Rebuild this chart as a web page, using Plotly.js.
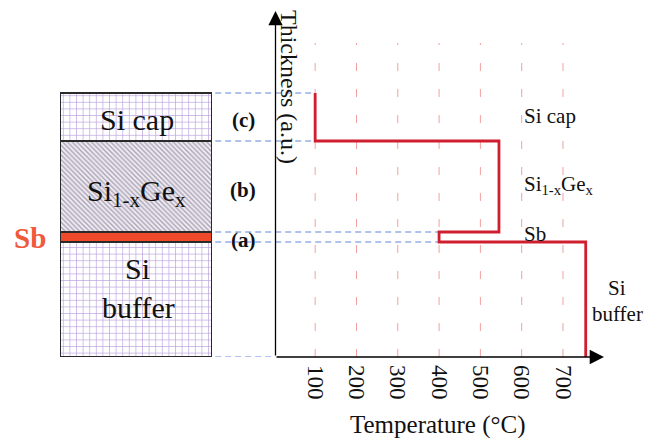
<!DOCTYPE html>
<html><head><meta charset="utf-8">
<script src="https://cdn.plot.ly/plotly-3.0.1.min.js"></script>
<style>html,body{margin:0;padding:0;background:#fff}#chart{width:658px;height:438px}</style>
</head><body><div id="chart"></div>
<script>
// ---- data ----
const layers = ['Si buffer', 'Sb', 'Si<sub>1-x</sub>Ge<sub>x</sub>', 'Si cap'];
const thickness = [115, 10, 91, 48];          // a.u., bottom to top
const temperature = [755, 400, 545, 100];     // growth temperature (°C) per layer
const tickValues = [100, 200, 300, 400, 500, 600, 700];
const tickLabels = ['100', '200', '300', '400', '500', '600', '700'];

// ---- geometry helpers ----
const W = 658, H = 438;
const px = v => v / W;
const py = v => 1 - v / H;
const SERIF = 'Liberation Serif, Times New Roman, serif';

// cumulative boundaries
const bounds = [0];
thickness.forEach(t => bounds.push(bounds[bounds.length - 1] + t));

// temperature step profile, from top down
const profT = [], profY = [];
for (let i = layers.length - 1; i >= 0; i--) {
  profT.push(temperature[i], temperature[i]);
  profY.push(bounds[i + 1], bounds[i]);
}

const traces = [];
const gridPat = {shape: '+', size: 6.6, solidity: 0.2, fgcolor: '#bda7e0', bgcolor: '#ffffff', fillmode: 'replace'};
const patterns = [
  gridPat,
  null,
  {shape: '\\', size: 3.4, solidity: 0.38, fgcolor: '#a8a0b4', bgcolor: '#eeebf1', fillmode: 'replace'},
  gridPat
];
layers.forEach((name, i) => {
  const marker = {color: i === 1 ? '#f04a2a' : '#ffffff', line: {color: '#2a2a2a', width: 1.8}};
  if (patterns[i]) marker.pattern = patterns[i];
  traces.push({
    type: 'bar', x: [0], y: [thickness[i]], width: [1], name: name,
    xaxis: 'x2', yaxis: 'y', marker: marker, hoverinfo: 'skip', showlegend: false
  });
});
traces.push({
  type: 'scatter', mode: 'lines', x: profT, y: profY,
  line: {color: '#cf1f2e', width: 2.8}, hoverinfo: 'skip', showlegend: false
});

// shapes
const shapes = [];
tickValues.forEach(v => shapes.push({
  type: 'line', xref: 'x', yref: 'y', x0: v, x1: v, y0: 0, y1: 314, layer: 'below',
  line: {color: '#f2a0a0', width: 1, dash: '8px,18px'}
}));
const dashLeft = -142, axisX = 4;
bounds.forEach((b, k) => {
  let xEnd;
  if (k === 0) xEnd = axisX;
  else if (k === bounds.length - 1) xEnd = temperature[k - 1];
  else xEnd = Math.min(temperature[k - 1], temperature[k]);
  shapes.push({
    type: 'line', xref: 'x', yref: 'y', x0: dashLeft, x1: xEnd, y0: b, y1: b, layer: 'below',
    line: {color: '#5f86dc', width: 1.2, dash: '6px,4px'}
  });
});

const tf = (s, extra) => Object.assign({family: SERIF, size: s, color: '#111'}, extra || {});
const lab = (x, y, text, font, extra) => Object.assign({
  xref: 'paper', yref: 'paper', x: px(x), y: py(y), text: text, showarrow: false,
  xanchor: 'center', yanchor: 'middle', font: font
}, extra || {});
const annotations = [
  {xref: 'paper', yref: 'paper', x: px(604), y: py(357), ax: -329, ay: 0, axref: 'pixel', ayref: 'pixel',
   text: '', showarrow: true, arrowhead: 2, arrowsize: 2.2, arrowwidth: 1.3, arrowcolor: '#000', standoff: 0},
  {xref: 'paper', yref: 'paper', x: px(275.5), y: py(11), ax: 0, ay: 346, axref: 'pixel', ayref: 'pixel',
   text: '', showarrow: true, arrowhead: 2, arrowsize: 2.2, arrowwidth: 1.3, arrowcolor: '#000', standoff: 0},
  lab(438, 425, 'Temperature (°C)', tf(25)),
  lab(289, 87, 'Thickness (a.u.)', tf(24), {textangle: 90}),
  lab(137, 119, 'Si cap', tf(30)),
  lab(136, 193, layers[2], tf(30)),
  lab(137, 268, 'Si', tf(30)),
  lab(138, 307, 'buffer', tf(30)),
  lab(30, 238, '<b>Sb</b>', tf(29, {color: '#f05a3c'})),
  lab(243, 120, '<b>(c)</b>', tf(21)),
  lab(243, 190, '<b>(b)</b>', tf(21)),
  lab(243, 240, '<b>(a)</b>', tf(21)),
  lab(522, 116, 'Si cap', tf(21), {xanchor: 'left'}),
  lab(522, 185, layers[2], tf(21), {xanchor: 'left'}),
  lab(522, 234, 'Sb', tf(21), {xanchor: 'left'}),
  lab(617, 288, 'Si', tf(21)),
  lab(617, 314, 'buffer', tf(21))
];

const layout = {
  width: W, height: H,
  margin: {l: 0, r: 0, t: 0, b: 0, pad: 0},
  paper_bgcolor: '#fff', plot_bgcolor: 'rgba(0,0,0,0)',
  barmode: 'stack', bargap: 0,
  font: {family: SERIF, color: '#111'},
  xaxis: {
    domain: [0, 1], range: [-663, 930], anchor: 'y',
    tickmode: 'array', tickvals: tickValues, ticktext: tickLabels, tickangle: 90,
    tickfont: {family: SERIF, size: 23, color: '#111'}, ticks: '', ticklabelstandoff: 7,
    showgrid: false, zeroline: false, showline: false, fixedrange: true
  },
  xaxis2: {domain: [px(60), px(212)], range: [-0.5, 0.5], anchor: 'y', visible: false, fixedrange: true},
  yaxis: {domain: [81 / H, 1], range: [0, 357], visible: false, fixedrange: true},
  shapes: shapes,
  annotations: annotations
};

Plotly.newPlot('chart', traces, layout, {staticPlot: true, displayModeBar: false});
</script>
</body></html>
